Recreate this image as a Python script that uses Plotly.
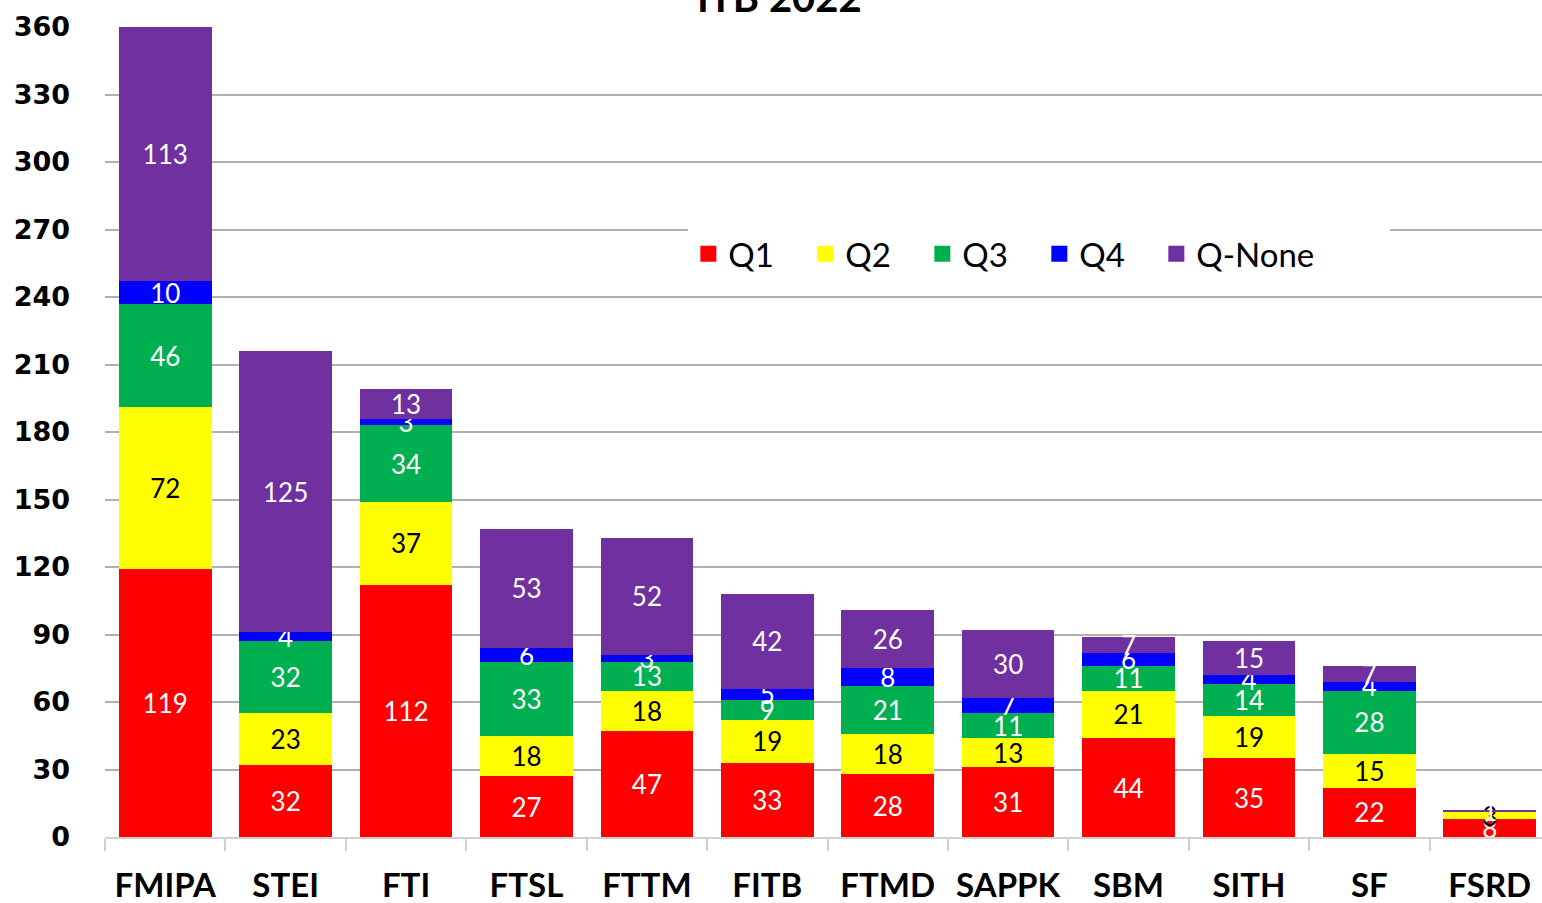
import plotly.graph_objects as go

categories = ["FMIPA", "STEI", "FTI", "FTSL", "FTTM", "FITB", "FTMD", "SAPPK", "SBM", "SITH", "SF", "FSRD"]
q1 = [119, 32, 112, 27, 47, 33, 28, 31, 44, 35, 22, 8]
q2 = [72, 23, 37, 18, 18, 19, 18, 13, 21, 19, 15, 3]
q3 = [46, 32, 34, 33, 13, 9, 21, 11, 11, 14, 28, 0]
q4 = [10, 4, 3, 6, 3, 5, 8, 7, 6, 4, 4, 0]
qnone = [113, 125, 13, 53, 52, 42, 26, 30, 7, 15, 7, 1]
series_names = ["Q1", "Q2", "Q3", "Q4", "Q-None"]
y_ticks = [0, 30, 60, 90, 120, 150, 180, 210, 240, 270, 300, 330, 360]

series = [q1, q2, q3, q4, qnone]
colors = ["#FF0000", "#FFFF00", "#00B050", "#0000FF", "#7030A0"]
text_colors = ["white", "black", "white", "white", "white"]

fig = go.Figure()
for name, vals, col, tc in zip(series_names, series, colors, text_colors):
    fig.add_trace(go.Bar(
        x=categories, y=vals, name=name, showlegend=False,
        marker=dict(color=col, line=dict(width=0)),
        text=[str(v) for v in vals],
        textposition="inside", insidetextanchor="middle", textangle=0,
        textfont=dict(color=tc, size=26, family="Lato"),
        cliponaxis=False,
    ))

# legend entries with larger square swatches
for name, col in zip(series_names, colors):
    fig.add_trace(go.Scatter(
        x=[None], y=[None], mode="markers", name=name,
        marker=dict(symbol="square", size=22, color=col),
        showlegend=True, hoverinfo="skip",
    ))
# blank spacer entry so the last legend label is not clipped
fig.add_trace(go.Scatter(
    x=[None], y=[None], mode="markers", name=" ",
    marker=dict(symbol="square", size=1, color="rgba(0,0,0,0)"),
    showlegend=True, hoverinfo="skip",
))

fig.update_layout(
    barmode="stack",
    bargap=0.23,
    width=1550, height=903,
    margin=dict(l=105, r=0, t=27, b=66),
    plot_bgcolor="white", paper_bgcolor="white",
    uniformtext=dict(minsize=26, mode="show"),
    showlegend=True,
    legend=dict(
        orientation="h", x=0.6466, y=0.72, xanchor="center", yanchor="middle",
        bgcolor="white", font=dict(size=33, family="Lato", color="black"),
        itemsizing="trace", traceorder="normal",
        entrywidth=72, entrywidthmode="pixels",
        borderwidth=0,
    ),
    annotations=[dict(
        text="<b>ITB 2022</b>", xref="paper", yref="paper", x=0.467, y=1,
        xanchor="center", yanchor="bottom", yshift=4, showarrow=False,
        font=dict(size=40, family="Lato", color="black"),
    )],
)
fig.update_yaxes(
    range=[0, 360], tickvals=y_ticks, showgrid=True, gridcolor="#B0B0B0", gridwidth=2,
    ticks="", ticklabelstandoff=34, automargin=False,
    tickfont=dict(size=27, family="DejaVu Sans", color="black", weight="bold"),
    zeroline=False, showline=False,
)
fig.update_xaxes(
    showline=True, linecolor="#D0D0D0", linewidth=2,
    ticks="outside", tickson="boundaries", ticklen=12, tickcolor="#D0D0D0", tickwidth=2,
    ticklabelstandoff=18, automargin=False,
    tickfont=dict(size=33, family="Lato", color="black", weight="bold"),
)

fig.write_html(
    "out.html",
    config={"displayModeBar": False},
    post_script="document.body.style.margin='0';document.body.style.overflow='hidden';",
)
